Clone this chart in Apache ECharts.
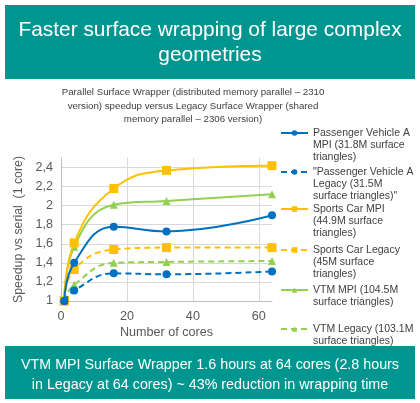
<!DOCTYPE html>
<html>
<head>
<meta charset="utf-8">
<script src="https://cdn.jsdelivr.net/npm/echarts@6/dist/echarts.min.js"></script>
<style>
html,body{margin:0;padding:0;background:#fff;}
#chart{width:420px;height:403px;}
</style>
</head>
<body>
<div id="chart"></div>
<script>
const cores = [1, 4, 16, 32, 64];
const pvMpi = [1.0, 1.40, 1.78, 1.73, 1.90];
const pvLegacy = [1.0, 1.11, 1.29, 1.28, 1.31];
const scMpi = [1.0, 1.61, 2.18, 2.37, 2.42];
const scLegacy = [1.0, 1.33, 1.54, 1.56, 1.56];
const vtmMpi = [1.0, 1.57, 2.01, 2.05, 2.12];
const vtmLegacy = [1.0, 1.17, 1.40, 1.41, 1.42];

const seriesNames = [
  'Passenger Vehicle A MPI (31.8M surface triangles)',
  '"Passenger Vehicle A Legacy (31.5M surface triangles)"',
  'Sports Car MPI (44.9M surface triangles)',
  'Sports Car Legacy (45M surface triangles)',
  'VTM MPI (104.5M surface triangles)',
  'VTM Legacy (103.1M surface triangles)'
];
const legendLabels = [
  ['Passenger Vehicle A', 'MPI (31.8M surface', 'triangles)'],
  ['"Passenger Vehicle A', 'Legacy (31.5M', 'surface triangles)"'],
  ['Sports Car MPI', '(44.9M surface', 'triangles)'],
  ['Sports Car Legacy', '(45M surface', 'triangles)'],
  ['VTM MPI (104.5M', 'surface triangles)'],
  ['VTM Legacy (103.1M', 'surface triangles)']
];
const legendTops = [133, 172, 209, 250, 290, 329];

const titleText = 'Faster surface wrapping of large complex\ngeometries';
const subtitleText = 'Parallel Surface Wrapper (distributed memory parallel \u2013 2310\nversion) speedup versus Legacy Surface Wrapper (shared\nmemory parallel \u2013 2306 version)';
const footerText = 'VTM MPI Surface Wrapper 1.6 hours at 64 cores (2.8 hours\nin Legacy at 64 cores) ~ 43% reduction in wrapping time';
const xAxisName = 'Number of cores';
const yAxisName = 'Speedup vs serial  (1 core)';

const BLUE = '#0070C0', YELLOW = '#FFC000', GREEN = '#92D050';
const FONT = '"Liberation Sans", Arial, sans-serif';
const LH = 12.3;

function pairs(vals) { return cores.map((c, i) => [c, vals[i]]); }

const seriesDefs = [
  { vals: pvMpi, color: BLUE, dashed: false, symbol: 'circle', size: 8 },
  { vals: pvLegacy, color: BLUE, dashed: true, symbol: 'circle', size: 8 },
  { vals: scMpi, color: YELLOW, dashed: false, symbol: 'rect', size: 9 },
  { vals: scLegacy, color: YELLOW, dashed: true, symbol: 'rect', size: 9 },
  { vals: vtmMpi, color: GREEN, dashed: false, symbol: 'triangle', size: 8 },
  { vals: vtmLegacy, color: GREEN, dashed: true, symbol: 'triangle', size: 8 }
];

const series = seriesDefs.map((d, i) => ({
  name: seriesNames[i],
  type: 'line',
  data: pairs(d.vals),
  smooth: 0.45,
  symbol: d.symbol,
  symbolSize: d.size,
  showSymbol: true,
  color: d.color,
  itemStyle: { color: d.color },
  lineStyle: { color: d.color, width: 2, type: d.dashed ? [6, 4] : 'solid' },
  z: 10 - i,
  animation: false
}));

// blank lines above the label so the first real line sits at the icon's height
const legends = seriesNames.map((n, i) => {
  const lines = legendLabels[i];
  const blanks = lines.length - 1;
  const total = lines.length + blanks;
  return {
    data: [n],
    left: 280,
    top: legendTops[i] - (total * LH) / 2,
    orient: 'vertical',
    padding: 0,
    itemWidth: 27,
    itemHeight: 7,
    selectedMode: false,
    formatter: () => '\n'.repeat(blanks) + lines.join('\n'),
    textStyle: { fontFamily: FONT, fontSize: 10.5, color: '#404040', lineHeight: LH }
  };
});

const chart = echarts.init(document.getElementById('chart'), null, { renderer: 'canvas' });
chart.setOption({
  animation: false,
  backgroundColor: '#ffffff',
  graphic: [
    { type: 'rect', shape: { x: 5, y: 5, width: 410, height: 74 }, style: { fill: '#009690' }, z: -1 },
    { type: 'rect', shape: { x: 5, y: 346, width: 410, height: 53 }, style: { fill: '#009690' }, z: 100 }
  ],
  title: [
    { text: titleText, left: 210, top: 17.5, textAlign: 'center', padding: 0,
      textStyle: { fontFamily: FONT, fontSize: 20.9, fontWeight: 'normal', color: '#ffffff', lineHeight: 25 } },
    { text: subtitleText, left: 193, top: 86, textAlign: 'center', padding: 0,
      textStyle: { fontFamily: FONT, fontSize: 9.7, fontWeight: 'normal', color: '#404040', lineHeight: 13.5 } },
    { text: footerText, left: 210, top: 355, textAlign: 'center', padding: 0, z: 200,
      textStyle: { fontFamily: FONT, fontSize: 14.3, fontWeight: 'normal', color: '#ffffff', lineHeight: 20 } }
  ],
  legend: legends,
  grid: { left: 61, right: 148, top: 158, bottom: 102, containLabel: false },
  xAxis: {
    type: 'value', min: 0, max: 64, interval: 20,
    name: xAxisName, nameLocation: 'middle', nameGap: 25,
    nameTextStyle: { fontFamily: FONT, fontSize: 12.6, color: '#595959' },
    axisLine: { show: true, lineStyle: { color: '#bfbfbf' } },
    axisTick: { show: false },
    axisLabel: { fontFamily: FONT, fontSize: 12.6, color: '#595959', margin: 9, showMaxLabel: false },
    splitLine: { show: true, showMaxLine: false, lineStyle: { color: '#d9d9d9' } }
  },
  yAxis: {
    type: 'value', min: 1, max: 2.5, interval: 0.2,
    name: yAxisName, nameLocation: 'middle', nameGap: 32,
    nameTextStyle: { fontFamily: FONT, fontSize: 12.3, color: '#595959' },
    axisLine: { show: true, lineStyle: { color: '#bfbfbf' } },
    axisTick: { show: false },
    axisLabel: { fontFamily: FONT, fontSize: 12.6, color: '#595959', margin: 8, showMaxLabel: false,
      formatter: v => String(Math.round(v * 10) / 10).replace('.', ',') },
    splitLine: { show: true, showMaxLine: false, lineStyle: { color: '#d9d9d9' } }
  },
  series: series
});
</script>
</body>
</html>
